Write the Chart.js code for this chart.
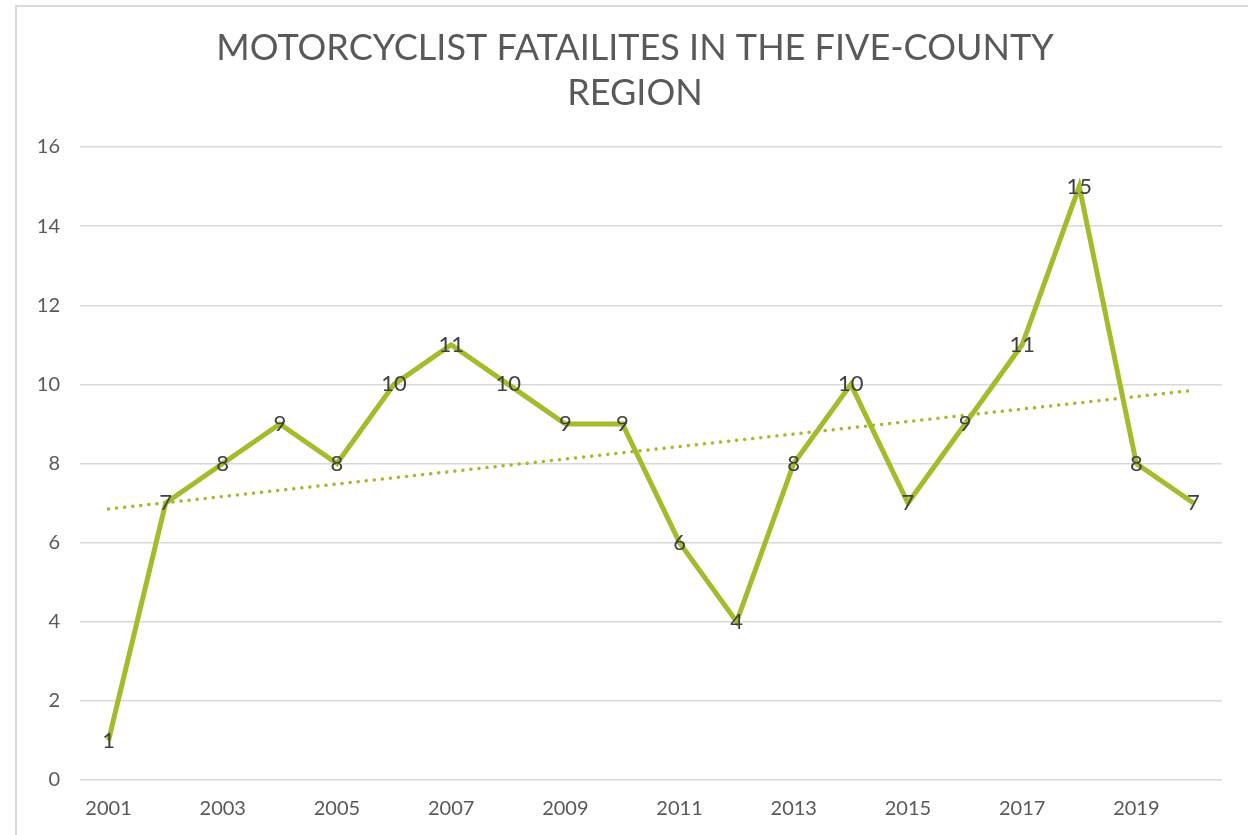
<!DOCTYPE html>
<html>
<head>
<meta charset="utf-8">
<script src="https://cdn.jsdelivr.net/npm/chart.js@4.4.1/dist/chart.umd.min.js"></script>
<style>
  html, body { margin: 0; padding: 0; background: #fff; overflow: hidden; }
  #wrap { position: relative; width: 1248px; height: 835px; }
  #frame { position: absolute; left: 15px; top: 5px; width: 1300px; height: 900px;
           border: 2px solid #d9d9d9; box-sizing: border-box; pointer-events: none; }
</style>
</head>
<body>
<div id="wrap">
  <canvas id="salesChart" width="1248" height="835"></canvas>
  <div id="frame"></div>
</div>
<script>
const years = ['2001','2002','2003','2004','2005','2006','2007','2008','2009','2010',
               '2011','2012','2013','2014','2015','2016','2017','2018','2019','2020'];
const fatalities = [1, 7, 8, 9, 8, 10, 11, 10, 9, 9, 6, 4, 8, 10, 7, 9, 11, 15, 8, 7];
// trendline: start and end values only
const trendline = [6.85, null, null, null, null, null, null, null, null, null,
                   null, null, null, null, null, null, null, null, null, 9.85];
const yTicks = [0, 2, 4, 6, 8, 10, 12, 14, 16];
const titleLines = ['MOTORCYCLIST FATAILITES IN THE FIVE-COUNTY', 'REGION'];

const green = '#a5bb2b';
const fontFamily = "Lato, 'Open Sans', sans-serif";

// title is centred on the outer frame, not the canvas, so draw it by hand
const frameTitle = {
    id: 'frameTitle',
    afterDraw(chart) {
        const ctx = chart.ctx;
        ctx.save();
        ctx.font = '36px ' + fontFamily;
        ctx.fillStyle = '#595959';
        ctx.textAlign = 'center';
        ctx.textBaseline = 'middle';
        titleLines.forEach((line, i) => ctx.fillText(line, 635, 48 + i * 45));
        ctx.restore();
    }
};

// draw the value on top of each point
const pointLabels = {
    id: 'pointLabels',
    afterDatasetsDraw(chart) {
        const ctx = chart.ctx;
        const meta = chart.getDatasetMeta(0);
        ctx.save();
        ctx.font = '22px ' + fontFamily;
        ctx.fillStyle = '#404040';
        ctx.textAlign = 'center';
        ctx.textBaseline = 'middle';
        meta.data.forEach((pt, i) => {
            ctx.fillText(String(fatalities[i]), pt.x, pt.y);
        });
        ctx.restore();
    }
};

const ctx = document.getElementById('salesChart').getContext('2d');
window.fatalChart = new Chart(ctx, {
    type: 'line',
    data: {
        labels: years,
        datasets: [{
            label: 'Fatalities',
            data: fatalities,
            borderColor: green,
            borderWidth: 5,
            pointRadius: 0,
            tension: 0,
            fill: false
        }, {
            label: 'Trend',
            data: trendline,
            spanGaps: true,
            borderColor: green,
            borderWidth: 3.5,
            borderCapStyle: 'round',
            borderDash: [0.1, 8],
            pointRadius: 0,
            fill: false
        }]
    },
    options: {
        responsive: false,
        animation: false,
        layout: { padding: { left: 0, right: 26, top: 147, bottom: 5 } },
        plugins: {
            legend: { display: false },
            tooltip: { enabled: false },
            title: { display: false }
        },
        scales: {
            x: {
                offset: true,
                grid: { display: false },
                border: { display: false },
                ticks: {
                    autoSkip: false,
                    maxRotation: 0,
                    padding: 9,
                    color: '#595959',
                    font: { family: fontFamily, size: 20 },
                    callback: (v, i) => (i % 2 === 0 ? years[i] : '')
                }
            },
            y: {
                min: 0,
                max: 16,
                afterBuildTicks: (scale) => { scale.ticks = yTicks.map(v => ({ value: v })); },
                afterFit: (scale) => { scale.width = 80; },
                grid: { color: '#d9d9d9', lineWidth: 1.5, drawTicks: false },
                border: { display: false },
                ticks: {
                    padding: 20,
                    color: '#595959',
                    font: { family: fontFamily, size: 20 }
                }
            }
        }
    },
    plugins: [pointLabels, frameTitle]
});
</script>
</body>
</html>
